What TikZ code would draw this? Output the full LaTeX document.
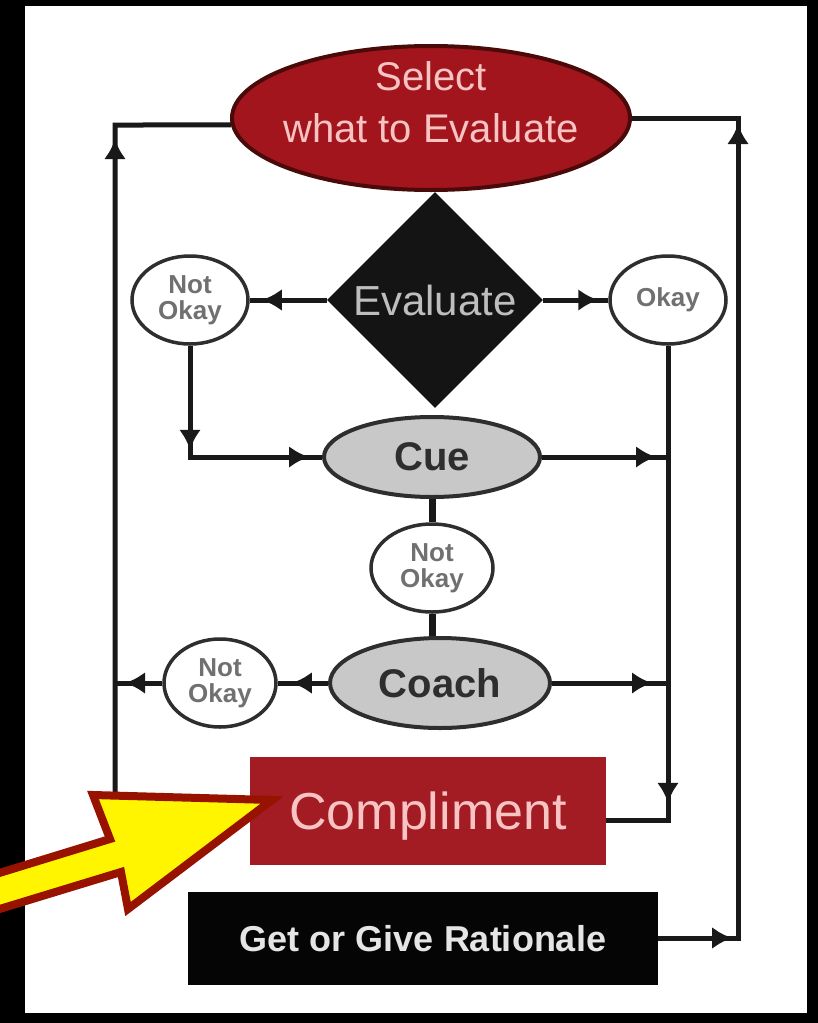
\documentclass[tikz,border=0pt]{standalone}
\usepackage{fontspec}
\setmainfont{Liberation Sans}
\usetikzlibrary{shapes.geometric,arrows.meta,decorations.markings}
\definecolor{selred}{HTML}{A3151D}
\definecolor{selrim}{HTML}{4A0A0A}
\definecolor{cmpred}{HTML}{A31B23}
\definecolor{pinktxt}{HTML}{F7C3C3}
\definecolor{cuegray}{HTML}{C8C8C8}
\definecolor{rimgray}{HTML}{2E2E2E}
\definecolor{okgray}{HTML}{707070}
\definecolor{evtxt}{HTML}{BEBEBE}
\definecolor{arrowyel}{HTML}{FFF500}
\definecolor{arrowrim}{HTML}{981200}
\tikzset{
  flow/.style={postaction={decorate,decoration={markings,
    mark=at position #1 with {\arrow{Latex[length=20pt,width=22pt]}}}}},
  conn/.style={line width=5pt,black!90},
  oval/.style={ellipse,draw=rimgray,line width=4pt,fill=cuegray,inner sep=0pt,
    text=rimgray,font=\fontsize{40}{44}\selectfont\bfseries},
  okay/.style={ellipse,draw=rimgray,line width=3.5pt,fill=white,inner sep=0pt,
    minimum height=88pt,align=center,text=okgray,font=\fontsize{26}{26}\selectfont\bfseries}
}
\begin{document}
\begin{tikzpicture}[x=1pt,y=-1pt]
  \useasboundingbox (0,0) rectangle (818,1023);
  \fill[black] (0,0) rectangle (818,1023);
  \fill[white] (25,6) rectangle (807,1013);
  \node[ellipse,fill=selred,draw=selrim,line width=4pt,minimum width=398pt,
    minimum height=144pt,inner sep=0pt] (sel) at (431,118) {};
  \node[text=pinktxt,align=center,inner sep=0pt,font=\fontsize{40}{52}\selectfont]
    (seltxt) at (431,102) {Select\\what to Evaluate};
  \node[diamond,fill=black!92,inner sep=0pt,minimum width=216pt,minimum height=216pt,
    text=evtxt,font=\fontsize{42}{42}\selectfont] (eval) at (435,300) {Evaluate};
  \foreach \nm/\pos/\okw in {nokA/{(190,300)}/116,nokB/{(432,568)}/122,nokC/{(220,683)}/112}
    \node[okay,minimum width=\okw pt] (\nm) at \pos {Not\\Okay};
  \node[okay,minimum width=116pt] (ok) at (668,300) {Okay};
  \node[oval,minimum width=216pt,minimum height=80pt] (cue) at (432,457) {Cue};
  \node[oval,minimum width=220pt,minimum height=90pt] (coach) at (440,683) {Coach};
  \node[fill=cmpred,minimum width=356pt,minimum height=108pt,text=pinktxt,text depth=0pt,
    font=\fontsize{52}{52}\selectfont] (cmp) at (428,811) {Compliment};
  \node[fill=black!98,minimum width=470pt,minimum height=93pt,text=black!10,text depth=0pt,
    font=\fontsize{36}{36}\selectfont\bfseries] (rat) at (423,938) {Get or Give Rationale};
  \coordinate (lftB) at (115,811);
  \coordinate (lftT) at (115,125);
  \coordinate (rgtB) at (738,938);
  \coordinate (rgtT) at (738,118);
  \coordinate (nokAc) at (190,457);
  \coordinate (okc) at (668,820);
  \draw[conn,flow=-130pt] (cmp.west) -- (lftB) -- (lftT) -- (sel.182);
  \draw[conn,flow=74pt,flow=-112pt] (rat.east) -- (rgtB) -- (rgtT) -- (sel.east);
  \draw[conn,flow=-12pt] (eval.west) -- (nokA.east);
  \draw[conn,flow=-10pt] (eval.east) -- (ok.west);
  \draw[conn,flow=104pt,flow=-13pt] (nokA.south) -- (nokAc) -- (cue.west);
  \draw[conn,flow=-79pt] (ok.south) -- (okc) -- ([yshift=-9pt]cmp.east);
  \draw[conn,flow=-12pt] (cue.east) -- (cue.east -| okc);
  \draw[conn,flow=-16pt] (coach.east) -- (coach.east -| okc);
  \draw[conn,flow=-14pt] (coach.west) -- (nokC.east);
  \draw[conn,flow=-10pt] (nokC.west) -- (nokC.west -| lftB);
  \draw[conn,line width=7pt] (cue.south) -- (nokB.north);
  \draw[conn,line width=7pt] (nokB.south) -- (nokB.south |- coach.north);
  \draw[line width=8pt,draw=arrowrim,fill=arrowyel,line join=miter]
    (272,800) -- (93,795) -- (110,839) -- (-30,882) -- (-30,918) -- (121,872) -- (128,909) -- cycle;
\end{tikzpicture}
\end{document}
